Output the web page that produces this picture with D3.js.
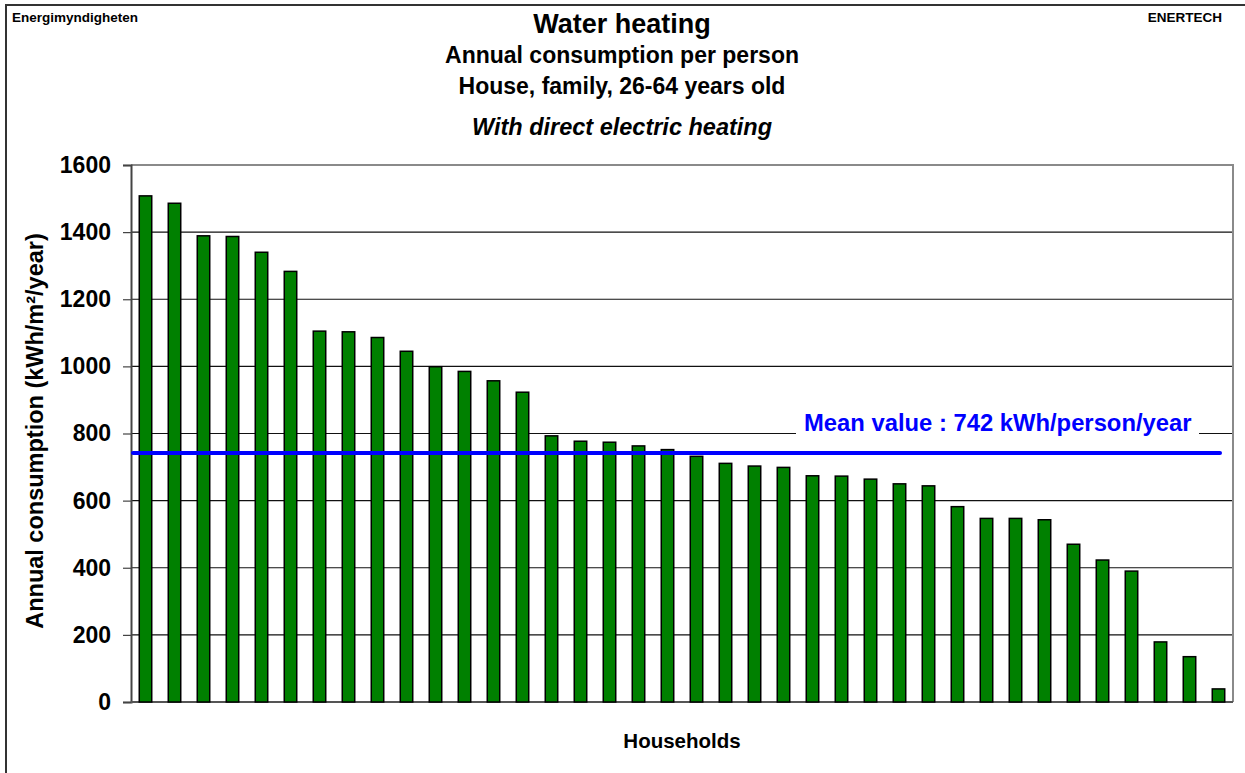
<!DOCTYPE html>
<html>
<head>
<meta charset="utf-8">
<script src="https://cdn.jsdelivr.net/npm/d3@7"></script>
<style>
  html, body { margin: 0; padding: 0; background: #fff; }
  svg { display: block; font-family: Arial, "Liberation Sans", Helvetica, sans-serif; }
</style>
</head>
<body>
<svg id="chart" width="1245" height="773"></svg>
<script>
// ---- data ----
const values = [1508, 1486, 1389, 1387, 1340, 1283, 1105, 1103, 1086, 1045,
                999, 985, 957, 923, 793, 777, 774, 763, 752, 732,
                711, 703, 699, 674, 673, 664, 650, 644, 582, 547,
                547, 543, 470, 423, 390, 179, 135, 39];
const households = values.map((d, i) => "H" + (i + 1));
const yTicks = [0, 200, 400, 600, 800, 1000, 1200, 1400, 1600];
const meanValue = 742;
const meanLabel = "Mean value : 742 kWh/person/year";
const titleLines = ["Water heating", "Annual consumption per person", "House, family, 26-64 years old"];
const subTitle = "With direct electric heating";
const yTitle = "Annual consumption (kWh/m²/year)";
const xTitle = "Households";
const leftNote = "Energimyndigheten";
const rightNote = "ENERTECH";

// ---- layout ----
const svg = d3.select("#chart");
const plot = { left: 131, right: 1233, top: 165, bottom: 702 };

const x = d3.scaleBand()
  .domain(households)
  .range([plot.left, plot.right])
  .paddingInner(0.57)
  .paddingOuter(0.285);

const y = d3.scaleLinear()
  .domain([0, 1600])
  .range([plot.bottom, plot.top]);

// outer border
svg.append("rect")
  .attr("x", 6).attr("y", 5)
  .attr("width", 1260).attr("height", 790)
  .attr("fill", "none").attr("stroke", "#333").attr("stroke-width", 2);

// corner notes
svg.append("text").attr("x", 12).attr("y", 22)
  .attr("font-size", 13.5).attr("font-weight", "bold").text(leftNote);
svg.append("text").attr("x", 1222).attr("y", 22).attr("text-anchor", "end")
  .attr("font-size", 13.5).attr("font-weight", "bold").text(rightNote);

// titles
const cx = 622;
svg.append("text").attr("x", cx).attr("y", 33).attr("text-anchor", "middle")
  .attr("font-size", 27).attr("font-weight", "bold").text(titleLines[0]);
svg.append("text").attr("x", cx).attr("y", 63).attr("text-anchor", "middle")
  .attr("font-size", 23).attr("font-weight", "bold").text(titleLines[1]);
svg.append("text").attr("x", cx).attr("y", 94).attr("text-anchor", "middle")
  .attr("font-size", 23).attr("font-weight", "bold").text(titleLines[2]);
svg.append("text").attr("x", cx).attr("y", 135).attr("text-anchor", "middle")
  .attr("font-size", 23.5).attr("font-weight", "bold").attr("font-style", "italic").text(subTitle);

// gridlines
svg.append("g")
  .selectAll("line")
  .data(yTicks.filter(d => d > 0 && d < 1600))
  .join("line")
  .attr("x1", plot.left).attr("x2", plot.right)
  .attr("y1", d => y(d)).attr("y2", d => y(d))
  .attr("stroke", "#111").attr("stroke-width", 1.2);

// plot frame top & right
svg.append("path")
  .attr("d", `M${plot.left},${plot.top}H${plot.right}V${plot.bottom}`)
  .attr("fill", "none").attr("stroke", "#8a8a8a").attr("stroke-width", 2);

// y axis
const yAxis = d3.axisLeft(y).tickValues(yTicks).tickSize(8).tickPadding(12).tickFormat(d3.format("d"));
const gy = svg.append("g").attr("transform", `translate(${plot.left},0)`).call(yAxis);
gy.select(".domain").attr("stroke", "#444").attr("stroke-width", 2);
gy.selectAll(".tick line").attr("stroke", "#444").attr("stroke-width", 1.2);
gy.selectAll(".tick text")
  .attr("font-size", 23).attr("font-weight", "bold").attr("fill", "#000")
  .attr("font-family", "Arial, 'Liberation Sans', sans-serif");

// bottom axis line
svg.append("line")
  .attr("x1", plot.left).attr("x2", plot.right)
  .attr("y1", plot.bottom).attr("y2", plot.bottom)
  .attr("stroke", "#555").attr("stroke-width", 2);

// bars
svg.append("g")
  .selectAll("rect")
  .data(values)
  .join("rect")
  .attr("x", (d, i) => x(households[i]))
  .attr("y", d => y(d))
  .attr("width", x.bandwidth())
  .attr("height", d => y(0) - y(d))
  .attr("fill", "#008000")
  .attr("stroke", "#000")
  .attr("stroke-width", 1.5);

// mean label with white backing (interrupts the 800 gridline)
svg.append("rect")
  .attr("x", 796).attr("y", y(800) - 4)
  .attr("width", 403).attr("height", 8)
  .attr("fill", "#fff");
svg.append("text")
  .attr("x", 804).attr("y", 431)
  .attr("font-size", 23.8).attr("font-weight", "bold").attr("fill", "#0000ff")
  .text(meanLabel);

// mean line
svg.append("line")
  .attr("x1", plot.left + 2).attr("x2", 1220)
  .attr("y1", y(meanValue)).attr("y2", y(meanValue))
  .attr("stroke", "#0000ff").attr("stroke-width", 4).attr("stroke-linecap", "round");

// axis titles
svg.append("text")
  .attr("transform", `translate(43,431) rotate(-90)`)
  .attr("text-anchor", "middle")
  .attr("font-size", 23.5).attr("font-weight", "bold").text(yTitle);
svg.append("text")
  .attr("x", (plot.left + plot.right) / 2).attr("y", 748)
  .attr("text-anchor", "middle")
  .attr("font-size", 20.5).attr("font-weight", "bold").text(xTitle);
</script>
</body>
</html>
